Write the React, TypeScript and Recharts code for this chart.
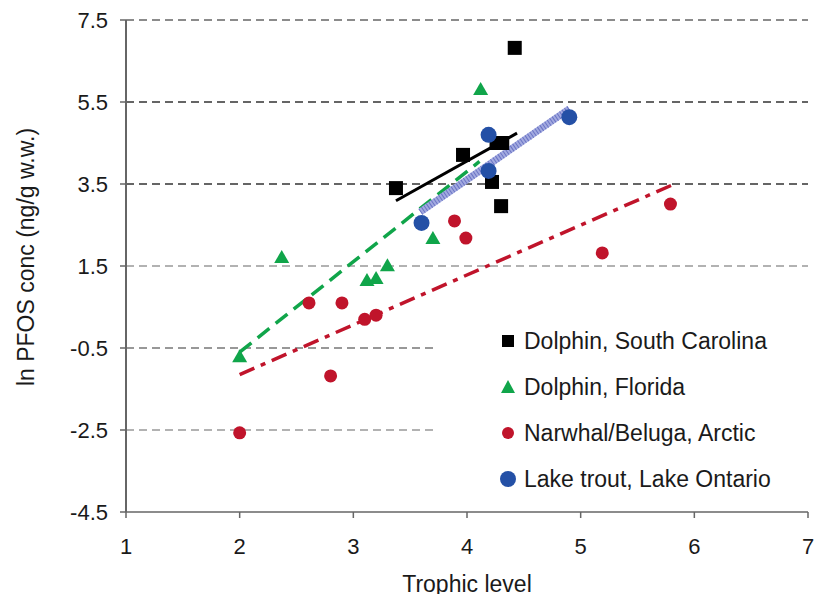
import React from "react";
import { ScatterChart, Scatter, XAxis, YAxis, ReferenceLine, Legend, Label } from "recharts";

const FONT = "'Liberation Sans', Arial, sans-serif";
const BLACK = "#000000";
const GREEN = "#10a54a";
const RED = "#c0142b";
const BLUE = "#2450a6";

const xTicks = [1, 2, 3, 4, 5, 6, 7];
const yTicks = [7.5, 5.5, 3.5, 1.5, -0.5, -2.5, -4.5];
const gridLevels = [7.5, 5.5, 3.5, 1.5, -0.5, -2.5];
const gridColors = ["#666", "#333", "#333", "#999", "#777", "#999"];

const seriesNames = [
  "Dolphin, South Carolina",
  "Dolphin, Florida",
  "Narwhal/Beluga, Arctic",
  "Lake trout, Lake Ontario",
];

const dolphinSC = [
  { x: 3.375, y: 3.4 },
  { x: 3.965, y: 4.21 },
  { x: 4.26, y: 4.5 },
  { x: 4.31, y: 4.5 },
  { x: 4.42, y: 6.82 },
  { x: 4.22, y: 3.55 },
  { x: 4.3, y: 2.96 },
];
const dolphinFL = [
  { x: 2.0, y: -0.7 },
  { x: 2.37, y: 1.72 },
  { x: 3.12, y: 1.16 },
  { x: 3.2, y: 1.21 },
  { x: 3.3, y: 1.52 },
  { x: 3.7, y: 2.18 },
  { x: 4.12, y: 5.82 },
];
const arctic = [
  { x: 2.0, y: -2.57 },
  { x: 2.61, y: 0.6 },
  { x: 2.9, y: 0.6 },
  { x: 2.8, y: -1.18 },
  { x: 3.1, y: 0.2 },
  { x: 3.2, y: 0.3 },
  { x: 3.89, y: 2.6 },
  { x: 3.99, y: 2.18 },
  { x: 5.19, y: 1.82 },
  { x: 5.79, y: 3.01 },
];
const laketrout = [
  { x: 3.6, y: 2.55 },
  { x: 4.19, y: 4.7 },
  { x: 4.19, y: 3.82 },
  { x: 4.9, y: 5.13 },
];

// regression lines (end points)
const fitSC = [{ x: 3.375, y: 3.09 }, { x: 4.44, y: 4.74 }];
const fitFL = [{ x: 2.0, y: -0.6 }, { x: 4.11, y: 4.05 }];
const fitArctic = [{ x: 2.0, y: -1.15 }, { x: 5.8, y: 3.47 }];
const fitTrout = [{ x: 3.59, y: 2.82 }, { x: 4.9, y: 5.33 }];

const SquareShape = (p: any) => (
  <rect x={p.cx - 7} y={p.cy - 7} width={14} height={14} fill={BLACK} />
);
const TriangleShape = (p: any) => (
  <polygon
    points={`${p.cx},${p.cy - 7} ${p.cx + 7.5},${p.cy + 6} ${p.cx - 7.5},${p.cy + 6}`}
    fill={GREEN}
  />
);
const RedDot = (p: any) => <circle cx={p.cx} cy={p.cy} r={6.5} fill={RED} />;
const BlueDot = (p: any) => <circle cx={p.cx} cy={p.cy} r={8} fill={BLUE} />;

function legendMarker(type: string, color: string) {
  if (type === "square") return <rect x={4} y={4} width={12} height={12} fill={color} />;
  if (type === "triangle") return <polygon points="10,3 17,16 3,16" fill={color} />;
  if (type === "diamond") return <circle cx={10} cy={10} r={8} fill={color} />;
  return <circle cx={10} cy={10} r={6} fill={color} />;
}

const renderLegend = (props: any) => {
  const items = [...(props.payload || [])].sort(
    (a: any, b: any) => seriesNames.indexOf(a.value) - seriesNames.indexOf(b.value)
  );
  return (
    <div style={{ background: "#fff", width: 376, height: 180, paddingTop: 2, fontFamily: FONT }}>
      {items.map((entry: any) => (
        <div
          key={entry.value}
          style={{ display: "flex", alignItems: "center", height: 46, paddingLeft: 60 }}
        >
          <svg width={20} height={20} style={{ marginRight: 6 }}>
            {legendMarker(entry.type, entry.color)}
          </svg>
          <span style={{ fontSize: 23, color: "#1a1a1a" }}>{entry.value}</span>
        </div>
      ))}
    </div>
  );
};

export default function App() {
  return (
    <div style={{ position: "absolute", left: 0, top: 0, background: "#fff" }}>
      <ScatterChart width={814} height={594} margin={{ top: 20, right: 6, bottom: 42, left: 56 }}>
        <XAxis
          type="number"
          dataKey="x"
          domain={[1, 7]}
          ticks={xTicks}
          height={40}
          tickSize={6}
          tickMargin={20}
          axisLine={{ stroke: "#666", strokeWidth: 1.5 }}
          tickLine={{ stroke: "#666", strokeWidth: 1.5 }}
          tick={{ fill: "#1a1a1a", fontSize: 22, fontFamily: FONT }}
        >
          <Label
            value="Trophic level"
            position="bottom"
            offset={24}
            style={{ fill: "#1a1a1a", fontSize: 23, fontFamily: FONT }}
          />
        </XAxis>
        <YAxis
          type="number"
          dataKey="y"
          domain={[-4.5, 7.5]}
          ticks={yTicks}
          width={70}
          tickSize={6}
          tickMargin={12}
          axisLine={{ stroke: "#666", strokeWidth: 2 }}
          tickLine={{ stroke: "#666", strokeWidth: 1.5 }}
          tick={{ fill: "#1a1a1a", fontSize: 22, fontFamily: FONT }}
          tickFormatter={(v: number) => v.toFixed(1)}
        >
          <Label
            content={() => (
              <text
                x={26}
                y={257}
                transform="rotate(-90 26 257)"
                textAnchor="middle"
                dominantBaseline="central"
                style={{ fill: "#1a1a1a", fontSize: 23, fontFamily: FONT }}
              >
                ln PFOS conc (ng/g w.w.)
              </text>
            )}
          />
        </YAxis>
        {gridLevels.map((v, i) => (
          <ReferenceLine
            key={v}
            y={v}
            stroke={gridColors[i]}
            strokeWidth={1.5}
            strokeDasharray="8 5"
          />
        ))}
        <Scatter
          name={seriesNames[0]}
          data={dolphinSC}
          fill={BLACK}
          legendType="square"
          shape={SquareShape}
          isAnimationActive={false}
        />
        <Scatter
          name={seriesNames[1]}
          data={dolphinFL}
          fill={GREEN}
          legendType="triangle"
          shape={TriangleShape}
          isAnimationActive={false}
        />
        <Scatter
          name={seriesNames[2]}
          data={arctic}
          fill={RED}
          legendType="circle"
          shape={RedDot}
          isAnimationActive={false}
        />
        <Scatter
          name={seriesNames[3]}
          data={laketrout}
          fill={BLUE}
          legendType="diamond"
          shape={BlueDot}
          isAnimationActive={false}
        />
        <ReferenceLine segment={fitSC} stroke={BLACK} strokeWidth={3} />
        <ReferenceLine segment={fitFL} stroke={GREEN} strokeWidth={3.5} strokeDasharray="15 8" />
        <ReferenceLine segment={fitArctic} stroke={RED} strokeWidth={3.5} strokeDasharray="16 7 5 7" />
        <ReferenceLine segment={fitTrout} stroke="#a3aae0" strokeWidth={7} />
        <ReferenceLine segment={fitTrout} stroke="#6a74c4" strokeWidth={7} strokeDasharray="1 2" />
        <Legend
          layout="vertical"
          align="center"
          verticalAlign="middle"
          content={renderLegend}
          wrapperStyle={{ left: 438, top: 316, width: 376 }}
        />
      </ScatterChart>
    </div>
  );
}
